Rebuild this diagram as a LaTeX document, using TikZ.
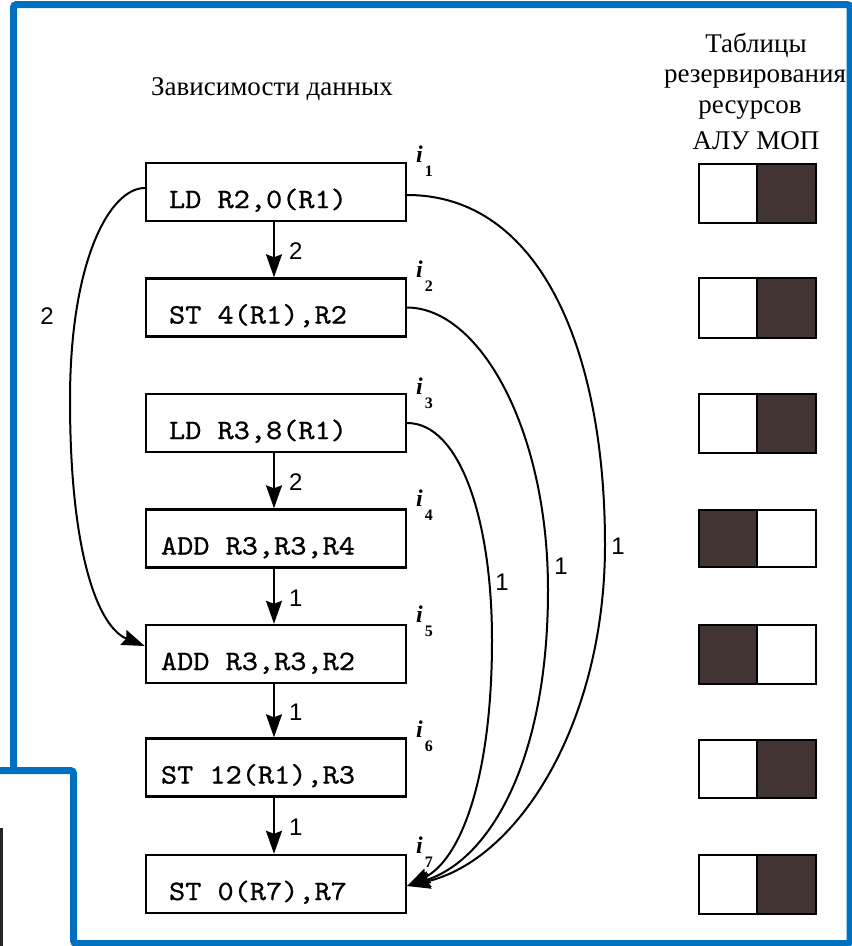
\documentclass[tikz,border=0pt]{standalone}
\usepackage{fontspec}
\setmainfont{Liberation Serif}
\newfontfamily\monof{lmmono10-regular}[Extension=.otf, FakeStretch=1.1, FakeBold=0.8]
\newfontfamily\sansf{Liberation Sans}
\usetikzlibrary{arrows.meta}
\definecolor{frameblue}{RGB}{0,112,192}
\definecolor{darkfill}{RGB}{66,52,50}
\newcommand{\instxt}[1]{#1\hspace*{36pt}}
\newcommand{\ilab}[1]{\textbf{\textit{i}}\hspace{2pt}\raisebox{-14pt}{\fontsize{16}{16}\selectfont\bfseries #1}}
\begin{document}
\begin{tikzpicture}[x=1pt,y=-1pt,
  instr/.style={draw, line width=2.4pt, minimum width=260pt, minimum height=58pt,
    inner xsep=0pt, inner ysep=0pt, text height=45pt, text depth=13pt,
    font=\monof\fontsize{28}{30}\selectfont},
  hdr/.style={anchor=base, inner sep=0pt, font=\fontsize{27}{30}\selectfont},
  ilabel/.style={anchor=base west, inner sep=0pt, font=\fontsize{24}{24}\selectfont},
  lbl/.style={inner sep=0pt, font=\sansf\fontsize{24}{24}\selectfont},
  tip/.style={-{Stealth[length=23pt,width=16pt,inset=3pt]}},
  varr/.style={tip, line width=2pt},
  carr/.style={tip, line width=2pt},
  rbox/.style={draw, line width=2.4pt}]
\useasboundingbox (0,0) rectangle (852,946);
\clip (0,0) rectangle (852,946);
\fill[white] (0,0) rectangle (852,946);

% titles
\node[hdr] (title) at (272,95) {Зависимости данных};
\node[hdr] (h1) at (756,52) {Таблицы};
\node[hdr] (h2) at (755,82.5) {резервирования};
\node[hdr] (h3) at (750,113) {ресурсов};
\node[hdr] (h4) at (756,149) {АЛУ МОП};

% instruction boxes
\node[instr] (i1) at (276,192) {\instxt{LD R2,0(R1)}};
\node[instr] (i2) at (276,307.5) {\instxt{ST 4(R1),R2}};
\node[instr] (i3) at (276,423) {\instxt{LD R3,8(R1)}};
\node[instr] (i4) at (276,538.5) {\instxt{ADD R3,R3,R4}};
\node[instr] (i5) at (276,654) {\instxt{ADD R3,R3,R2}};
\node[instr] (i6) at (276,767.5) {\instxt{ST 12(R1),R3}};
\node[instr] (i7) at (276,884) {\instxt{ST 0(R7),R7}};

% i labels
\node[ilabel] (l1) at (416,162) {\ilab{1}};
\node[ilabel] (l2) at (416,277) {\ilab{2}};
\node[ilabel] (l3) at (416,394) {\ilab{3}};
\node[ilabel] (l4) at (416,506) {\ilab{4}};
\node[ilabel] (l5) at (416,622) {\ilab{5}};
\node[ilabel] (l6) at (416,737) {\ilab{6}};
\node[ilabel] (l7) at (416,853) {\ilab{7}};

% vertical dependencies
\draw[varr] ([xshift=-2pt]i1.south) -- node[lbl, pos=0.53, anchor=west, xshift=14pt] {2} ([xshift=-2pt]i2.north);
\draw[varr] ([xshift=-2pt]i3.south) -- node[lbl, pos=0.53, anchor=west, xshift=14pt] {2} ([xshift=-2pt]i4.north);
\draw[varr] ([xshift=-2pt]i4.south) -- node[lbl, pos=0.53, anchor=west, xshift=14pt] {1} ([xshift=-2pt]i5.north);
\draw[varr] ([xshift=-2pt]i5.south) -- node[lbl, pos=0.53, anchor=west, xshift=14pt] {1} ([xshift=-2pt]i6.north);
\draw[varr] ([xshift=-2pt]i6.south) -- node[lbl, pos=0.53, anchor=west, xshift=14pt] {1} ([xshift=-2pt]i7.north);

% left curve i1 -> i5
\draw[carr] ([yshift=4pt]i1.west) .. controls (110,188) and (70,260) .. (70,400)
  .. controls (70,560) and (100,628) .. ([yshift=8pt]i5.west);
\node[lbl] (n15) at (47,316) {2};

% right curves to i7
\draw[carr] ([yshift=-3pt]i1.east) .. controls (540,195) and (605,350) .. (605,545)
  .. controls (605,720) and (520,860) .. ([yshift=-2pt]i7.east);
\draw[carr] (i2.east) .. controls (480,308) and (548,430) .. (548,590)
  .. controls (548,760) and (490,860) .. ([yshift=-2pt]i7.east);
\draw[carr] (i3.east) .. controls (460,423) and (492,520) .. (492,640)
  .. controls (492,780) and (460,860) .. ([yshift=-2pt]i7.east);
\node[lbl] (n17) at (618,546) {1};
\node[lbl] (n27) at (561,566) {1};
\node[lbl] (n37) at (502,582) {1};

% resource reservation tables
\foreach \t/\b/\d in {164/223/r, 278/338/r, 394/453/r, 510/567/l, 625/684/l, 740/798/r, 855/914/r}{
  \if\d r
    \fill[darkfill] (757,\t) rectangle (816,\b);
  \else
    \fill[darkfill] (699,\t) rectangle (757,\b);
  \fi
  \draw[rbox] (699,\t) rectangle (816,\b) (757,\t) -- (757,\b);
}

% stray bar of a neighbouring picture
\fill[black!85] (0,828) rectangle (3,946);

% blue frame
\draw[frameblue, line width=7pt, rounded corners=3pt]
  (0,770.5) -- (73.5,770.5) -- (73.5,943.5) -- (850,943.5) -- (850,4.5) -- (13.5,4.5) -- (13.5,774);
\end{tikzpicture}
\end{document}
